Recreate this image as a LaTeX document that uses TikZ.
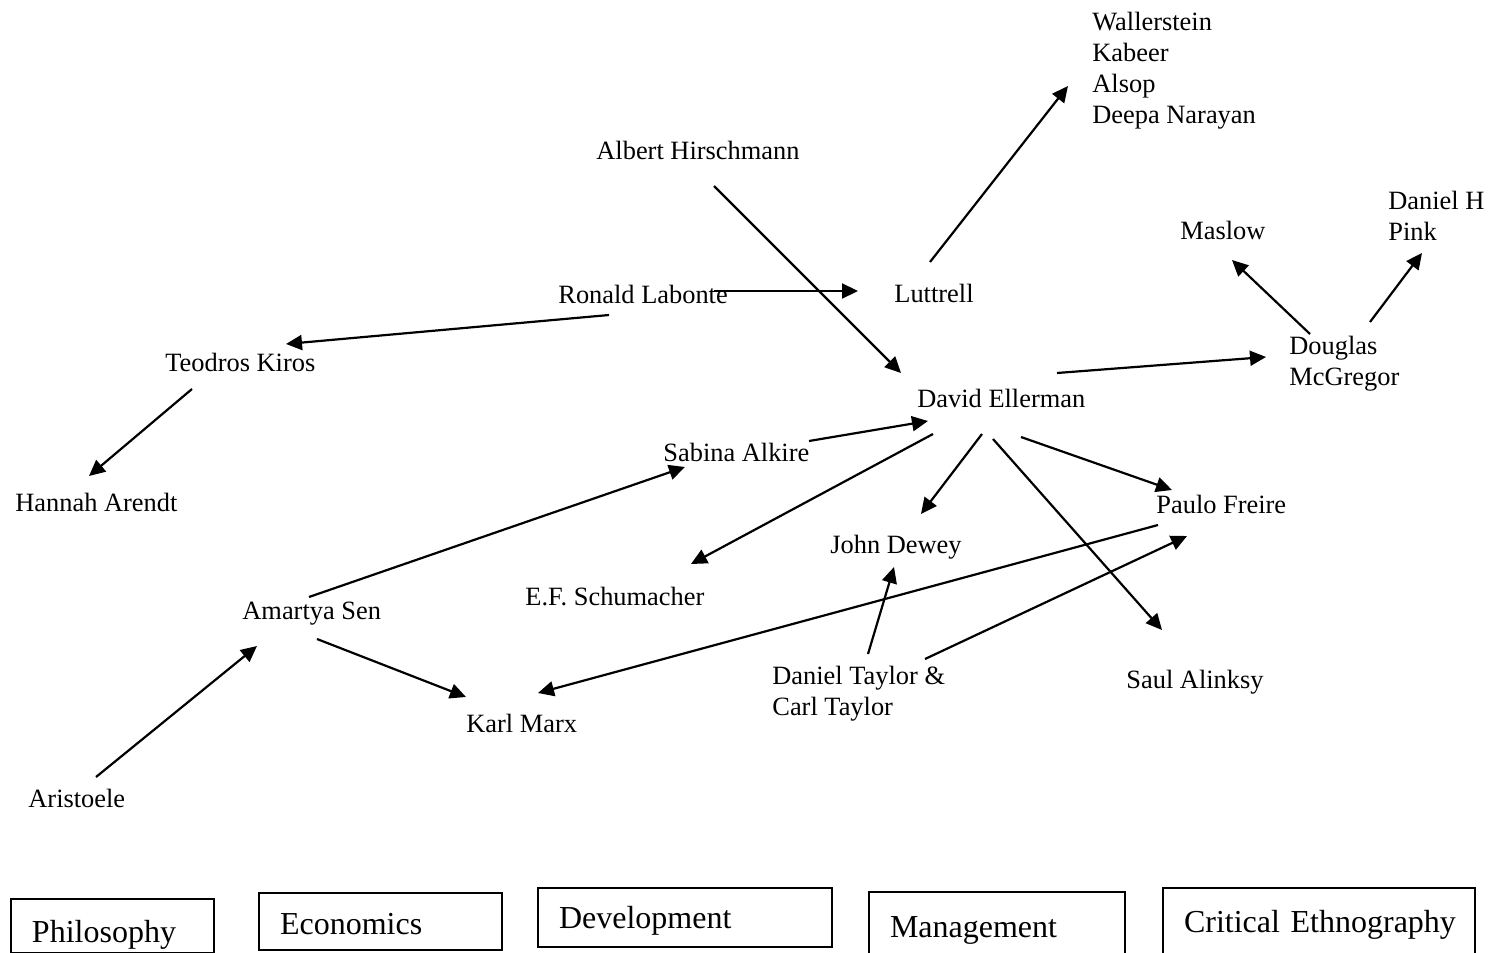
\documentclass[tikz,border=0pt]{standalone}
\usepackage{fontspec}
\setmainfont{Liberation Serif}
\usetikzlibrary{arrows.meta}
\begin{document}
\begin{tikzpicture}[x=0.5pt,y=-0.5pt]
      \tikzstyle{who} = [anchor=base west, inner sep=0pt, align=left, font=\fontsize{13.2}{15.5}\selectfont]
      \tikzstyle{field} = [draw=black, line width=1pt, anchor=north west, inner ysep=0pt, inner xsep=10.5pt, align=left, font=\fontsize{16}{19}\selectfont]
      \tikzstyle{link} = [line width=1.1pt, -{Triangle[length=8pt,width=7.5pt]}]

      \useasboundingbox (0,0) rectangle (1490,953);

      \node (wall) [who] at (1092,123) {Wallerstein\\Kabeer\\Alsop\\Deepa Narayan};
      \node (hirsch) [who] at (596,159) {Albert Hirschmann};
      \node (labonte) [who] at (558,303) {Ronald Labonte};
      \node (luttrell) [who] at (894,302) {Luttrell};
      \node (kiros) [who] at (165,371) {Teodros Kiros};
      \node (arendt) [who] at (15,511) {Hannah Arendt};
      \node (alkire) [who] at (663,461) {Sabina Alkire};
      \node (ellerman) [who] at (917,407) {David Ellerman};
      \node (mcgregor) [who] at (1289,385) {Douglas\\McGregor};
      \node (maslow) [who] at (1180,239) {Maslow};
      \node (pink) [who] at (1388,240) {Daniel H\\Pink};
      \node (freire) [who] at (1156,513) {Paulo Freire};
      \node (dewey) [who] at (830,553) {John Dewey};
      \node (schumacher) [who] at (525,605) {E.F. Schumacher};
      \node (sen) [who] at (242,619) {Amartya Sen};
      \node (marx) [who] at (466,732) {Karl Marx};
      \node (aristoele) [who] at (28,807) {Aristoele};
      \node (taylor) [who] at (772,715) {Daniel Taylor \&\\Carl Taylor};
      \node (alinsky) [who] at (1126,688) {Saul Alinksy};

      \node (philosophy) [field, text width=80.5pt, text height=21.5pt, text depth=5.5pt] at (10,898) {Philosophy};
      \node (economics) [field, text width=100.5pt, text height=20.5pt, text depth=8pt] at (258,892) {Economics};
      \node (development) [field, text width=126pt, text height=20pt, text depth=9.5pt] at (537,887) {Development};
      \node (management) [field, text width=107pt, text height=22.5pt, text depth=11pt] at (868,891) {Management};
      \node (critical) [field, text width=135pt, text height=22pt, text depth=13.5pt] at (1162,887) {\mbox{Critical Ethnography}};

      \draw [link] ([shift={(118,27)}]hirsch.base west) -- ([shift={(-16,-34)}]ellerman.base west);
      \draw [link] ([shift={(156,-12)}]labonte.base west) -- ([shift={(-36,-11)}]luttrell.base west);
      \draw [link] ([shift={(51,12)}]labonte.base west) -- ([shift={(121,-27)}]kiros.base west);
      \draw [link] ([shift={(27,18)}]kiros.base west) -- ([shift={(74,-35)}]arendt.base west);
      \draw [link] ([shift={(36,-40)}]luttrell.base west) -- ([shift={(-24,-37)}]wall.base west);
      \draw [link] ([shift={(140,-34)}]ellerman.base west) -- ([shift={(-23,-28)}]mcgregor.base west);
      \draw [link] ([shift={(21,-51)}]mcgregor.base west) -- ([shift={(52,21)}]maslow.base west);
      \draw [link] ([shift={(81,-63)}]mcgregor.base west) -- ([shift={(34,13)}]pink.base west);
      \draw [link] ([shift={(146,-20)}]alkire.base west) -- ([shift={(11,14)}]ellerman.base west);
      \draw [link] ([shift={(16,27)}]ellerman.base west) -- ([shift={(166,-41)}]schumacher.base west);
      \draw [link] ([shift={(65,27)}]ellerman.base west) -- ([shift={(91,-39)}]dewey.base west);
      \draw [link] ([shift={(76,32)}]ellerman.base west) -- ([shift={(36,-58)}]alinsky.base west);
      \draw [link] ([shift={(104,30)}]ellerman.base west) -- ([shift={(16,-23)}]freire.base west);
      \draw [link] ([shift={(2,12)}]freire.base west) -- ([shift={(72,-39)}]marx.base west);
      \draw [link] ([shift={(153,-56)}]taylor.base west) -- ([shift={(31,23)}]freire.base west);
      \draw [link] ([shift={(96,-61)}]taylor.base west) -- ([shift={(64,14)}]dewey.base west);
      \draw [link] ([shift={(67,-22)}]sen.base west) -- ([shift={(22,6)}]alkire.base west);
      \draw [link] ([shift={(75,20)}]sen.base west) -- ([shift={(0,-35)}]marx.base west);
      \draw [link] ([shift={(68,-30)}]aristoele.base west) -- ([shift={(15,27)}]sen.base west);
    \end{tikzpicture}
\end{document}
